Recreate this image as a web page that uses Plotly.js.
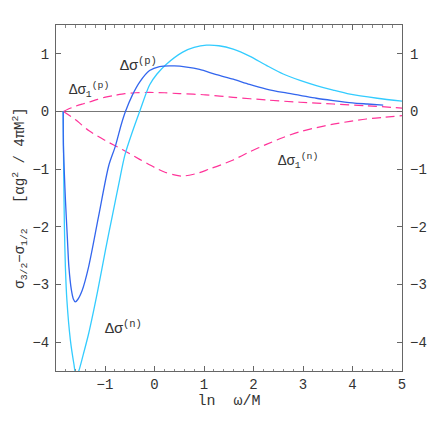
<!DOCTYPE html>
<html>
<head>
<meta charset="utf-8">
<script src="https://cdn.plot.ly/plotly-3.0.1.min.js"></script>
<style>
  html, body { margin: 0; padding: 0; background: #fff; }
  #plot { width: 436px; height: 436px; }
</style>
</head>
<body>
<div id="plot"></div>
<script>
// Δσ^(p) : trait plein bleu foncé
var xSigP = [-1.845, -1.84, -1.82, -1.80, -1.76, -1.73, -1.68, -1.64, -1.60, -1.55, -1.46, -1.33, -1.13, -0.925, -0.79, -0.67, -0.587, -0.45, -0.30, -0.10, 0.10, 0.40, 0.65, 0.91, 1.25, 1.59, 1.92, 2.26, 2.60, 2.94, 3.27, 3.61, 4.0, 4.3, 4.62];
var ySigP = [0, -0.6, -1.1, -1.52, -2.2, -2.69, -3.09, -3.25, -3.30, -3.26, -3.10, -2.69, -1.82, -0.94, -0.60, -0.22, 0, 0.28, 0.51, 0.71, 0.78, 0.79, 0.77, 0.73, 0.64, 0.56, 0.47, 0.39, 0.33, 0.28, 0.23, 0.19, 0.15, 0.13, 0.11];

// Δσ^(n) : trait plein cyan
var xSigN = [-1.845, -1.835, -1.82, -1.80, -1.77, -1.70, -1.63, -1.58, -1.53, -1.45, -1.33, -1.15, -0.99, -0.85, -0.72, -0.60, -0.45, -0.30, -0.10, 0.05, 0.24, 0.57, 0.80, 1.05, 1.30, 1.59, 1.92, 2.26, 2.60, 2.94, 3.27, 3.61, 3.95, 4.5, 5.0];
var ySigN = [0, -1.0, -2.0, -2.7, -3.27, -3.96, -4.37, -4.60, -4.50, -4.25, -3.85, -3.12, -2.40, -1.80, -1.25, -0.76, -0.36, 0, 0.46, 0.65, 0.82, 1.03, 1.11, 1.15, 1.14, 1.08, 0.96, 0.80, 0.65, 0.54, 0.45, 0.37, 0.30, 0.23, 0.18];

// Δσ1^(p) : tirets magenta
var xSig1P = [-1.84, -1.75, -1.6, -1.45, -1.33, -1.15, -0.99, -0.8, -0.6, -0.385, -0.1, 0.2, 0.5, 1.03, 1.59, 2.26, 2.94, 3.61, 4.28, 5];
var ySig1P = [0, 0.04, 0.09, 0.13, 0.16, 0.21, 0.25, 0.28, 0.31, 0.325, 0.33, 0.325, 0.31, 0.29, 0.245, 0.20, 0.16, 0.13, 0.10, 0.06];

// Δσ1^(n) : tirets magenta
var xSig1N = [-1.84, -1.6, -1.33, -1.0, -0.65, -0.3, 0, 0.2, 0.4, 0.55, 0.7, 0.91, 1.1, 1.25, 1.59, 1.92, 2.26, 2.6, 2.94, 3.27, 3.61, 3.95, 4.28, 4.65, 5];
var ySig1N = [0, -0.14, -0.33, -0.50, -0.66, -0.83, -0.97, -1.05, -1.10, -1.12, -1.105, -1.06, -1.0, -0.955, -0.84, -0.70, -0.57, -0.45, -0.35, -0.28, -0.22, -0.17, -0.13, -0.10, -0.07];

var yTicks = [-4, -3, -2, -1, 0, 1];
var xTicks = [-1, 0, 1, 2, 3, 4, 5];

var police = 'Liberation Mono, Courier New, monospace';
var dashMagenta = '9px,5px';

var traces = [
  { x: xSig1P, y: ySig1P, mode: 'lines', line: { color: '#ff3399', width: 1.2, dash: dashMagenta, shape: 'spline', smoothing: 0.8 } },
  { x: xSig1N, y: ySig1N, mode: 'lines', line: { color: '#ff3399', width: 1.2, dash: dashMagenta, shape: 'spline', smoothing: 0.8 } },
  { x: xSigN, y: ySigN, mode: 'lines', line: { color: '#33ccff', width: 1.3, shape: 'spline', smoothing: 0.8 } },
  { x: xSigP, y: ySigP, mode: 'lines', line: { color: '#3366ee', width: 1.3, shape: 'spline', smoothing: 0.8 } },
  // traces vides pour faire apparaitre les axes de droite et du haut
  { x: [null], y: [null], yaxis: 'y2', mode: 'lines', hoverinfo: 'skip' },
  { x: [null], y: [null], xaxis: 'x2', mode: 'lines', hoverinfo: 'skip' }
];

var layout = {
  width: 436,
  height: 436,
  showlegend: false,
  paper_bgcolor: '#fff',
  plot_bgcolor: '#fff',
  margin: { l: 56, r: 34, t: 25, b: 65 },
  font: { family: police, color: '#333', size: 14 },
  xaxis: {
    range: [-1.99, 5],
    tickvals: xTicks,
    ticks: 'inside',
    ticklen: 5,
    tickcolor: '#666',
    showline: true,
    linecolor: '#666',
    mirror: true,
    showgrid: false,
    zeroline: false,
    minor: { dtick: 0.2, tick0: 0, ticks: 'inside', ticklen: 2.5, tickcolor: '#888', showgrid: false },
    title: { text: 'ln  ω/M', font: { family: police, size: 15, color: '#333' }, standoff: 2 }
  },
  xaxis2: {
    range: [-1.99, 5],
    overlaying: 'x',
    side: 'top',
    anchor: 'y',
    tickvals: xTicks,
    ticks: 'inside',
    ticklen: 5,
    tickcolor: '#666',
    showticklabels: false,
    showline: false,
    showgrid: false,
    zeroline: false,
    minor: { dtick: 0.2, tick0: 0, ticks: 'inside', ticklen: 2.5, tickcolor: '#888', showgrid: false }
  },
  yaxis: {
    range: [-4.5, 1.5],
    tickvals: yTicks,
    ticks: 'inside',
    ticklen: 5,
    tickcolor: '#666',
    ticklabelstandoff: 3,
    showline: true,
    linecolor: '#666',
    mirror: true,
    showgrid: false,
    zeroline: true,
    zerolinecolor: '#777',
    zerolinewidth: 1,
    title: { text: 'σ<sub>3/2</sub>−σ<sub>1/2</sub>   [αg<sup>2</sup> / 4πM<sup>2</sup>]', font: { family: police, size: 14, color: '#333' }, standoff: 4 }
  },
  yaxis2: {
    range: [-4.5, 1.5],
    tickvals: yTicks,
    overlaying: 'y',
    side: 'right',
    ticks: 'inside',
    ticklen: 5,
    tickcolor: '#666',
    ticklabelstandoff: 7,
    showline: false,
    showgrid: false,
    zeroline: false
  },
  annotations: [
    { x: -0.74, y: 0.80, xanchor: 'left', text: 'Δσ<sup>(p)</sup>', showarrow: false, font: { family: police, size: 15, color: '#333' } },
    { x: -1.76, y: 0.38, xanchor: 'left', text: 'Δσ<sub>1</sub><sup>(p)</sup>', showarrow: false, font: { family: police, size: 14, color: '#333' } },
    { x: 2.45, y: -0.86, xanchor: 'left', text: 'Δσ<sub>1</sub><sup>(n)</sup>', showarrow: false, font: { family: police, size: 14, color: '#333' } },
    { x: -1.05, y: -3.75, xanchor: 'left', text: 'Δσ<sup>(n)</sup>', showarrow: false, font: { family: police, size: 15, color: '#333' } }
  ]
};

Plotly.newPlot('plot', traces, layout, { staticPlot: true, displayModeBar: false });
</script>
</body>
</html>
